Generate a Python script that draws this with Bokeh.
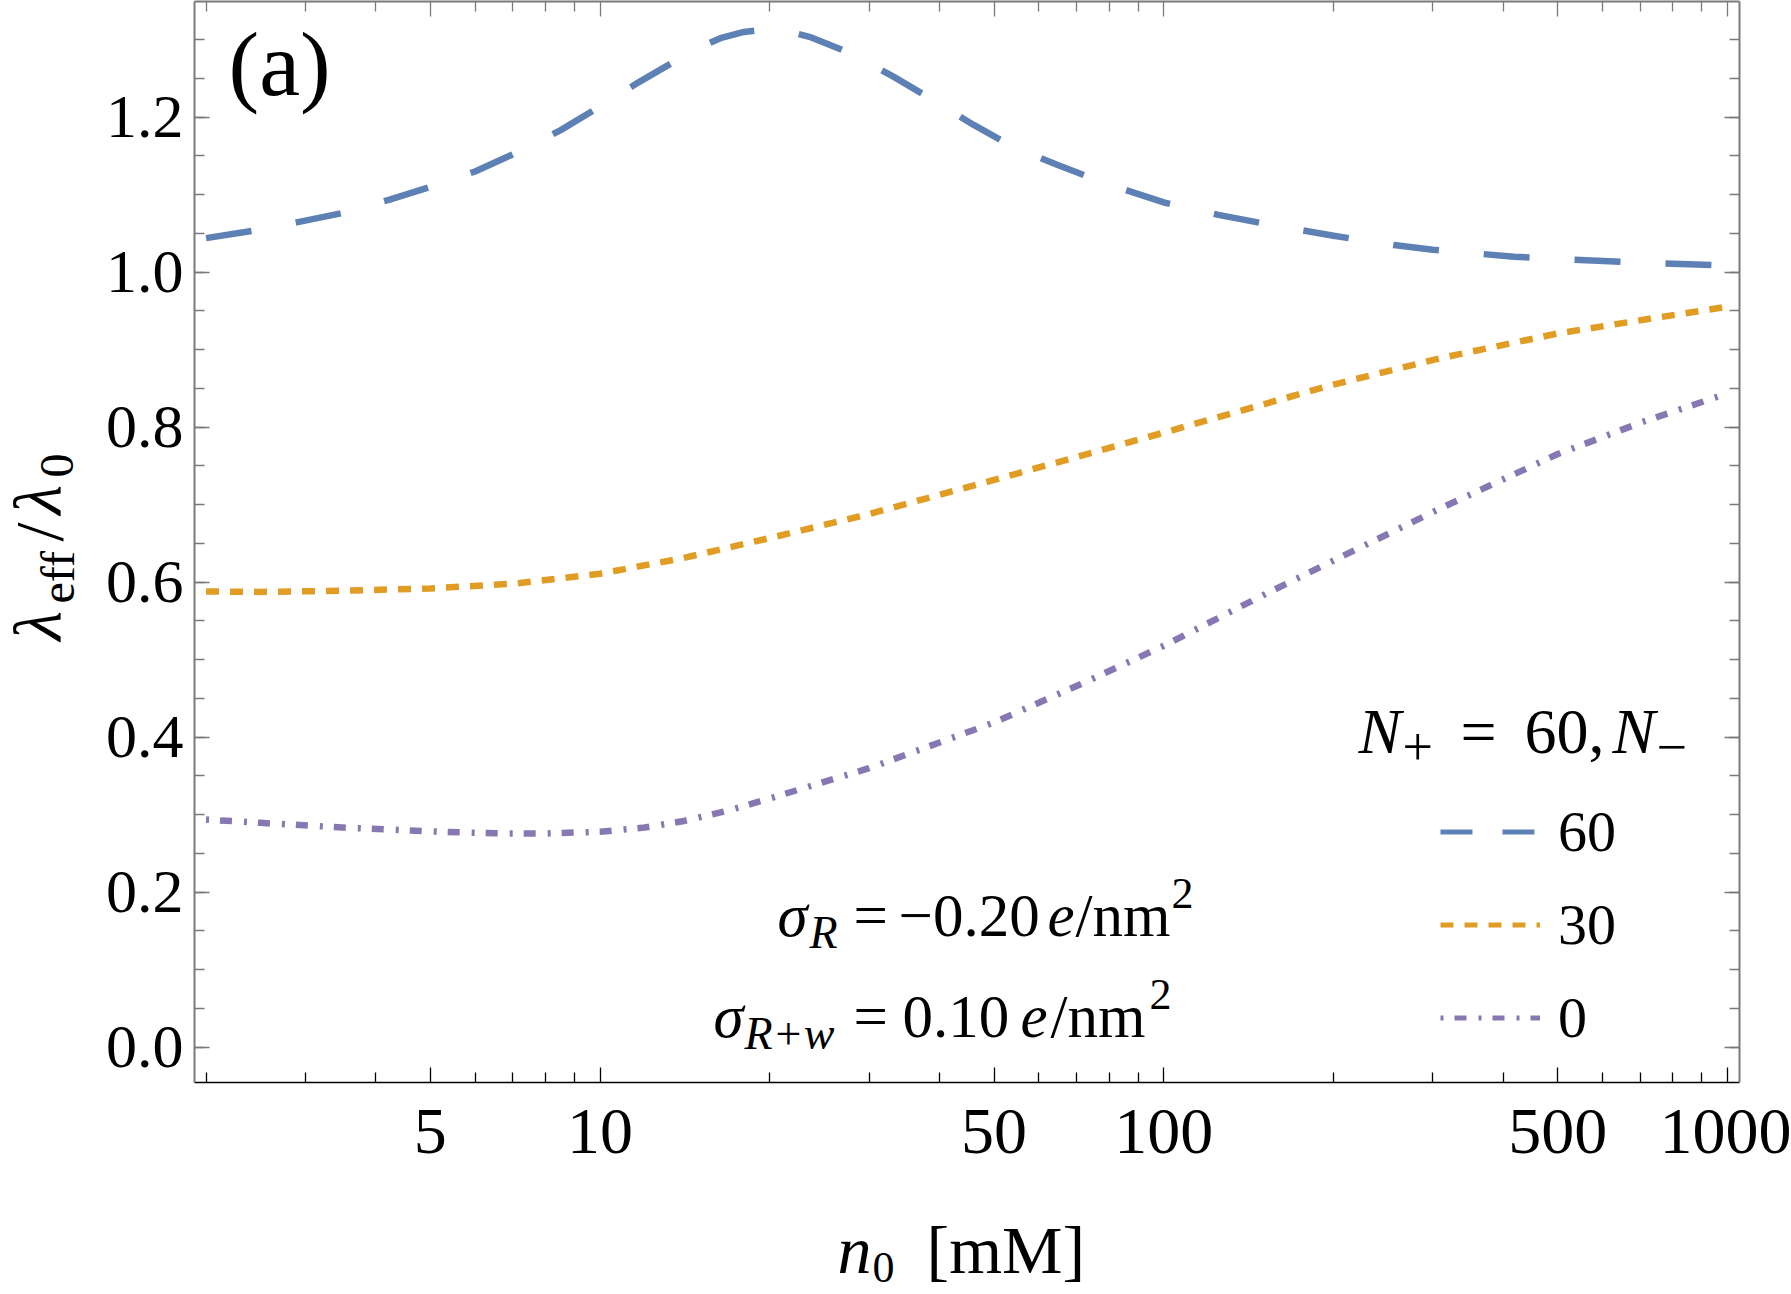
import math
from bokeh.plotting import figure
from bokeh.layouts import column, row
from bokeh.models import (Range1d, FixedTicker, LogAxis, LinearAxis, Label,
                          Legend, LegendItem, CustomJSTickFormatter)
from bokeh.embed import file_html
from bokeh.resources import INLINE

# ---------------- data ----------------
n_blue = [2.0, 2.42, 2.91, 3.51, 4.22, 5.0, 6.0, 7.0, 8.5, 10.0, 11.7, 13.7,
          15.0, 16.35, 18.0, 19.65, 21.5, 23.7, 28.1, 33.2, 39.0, 46.0, 54.0,
          65.0, 80.0, 100.0, 125.0, 150.0, 200.0, 256.0, 300.0, 418.0, 500.0,
          651.0, 800.0, 1000.0]
v_blue = [1.044, 1.0535, 1.0646, 1.0768, 1.0934, 1.110, 1.130, 1.152, 1.183,
          1.214, 1.245, 1.274, 1.290, 1.302, 1.310, 1.313, 1.311, 1.303, 1.281,
          1.252, 1.222, 1.190, 1.162, 1.138, 1.113, 1.090, 1.074, 1.063, 1.047,
          1.035, 1.029, 1.020, 1.017, 1.0135, 1.011, 1.0087]

n_orange = [2.0, 2.5, 3.5, 5.0, 7.0, 10.0, 14.0, 20.0, 30.0, 50.0, 72.0,
            100.0, 146.0, 200.0, 309.0, 500.0, 714.0, 1000.0]
v_orange = [0.588, 0.5875, 0.589, 0.592, 0.598, 0.611, 0.631, 0.657, 0.688,
            0.732, 0.764, 0.793, 0.827, 0.855, 0.889, 0.921, 0.939, 0.9556]

n_purple = [2.0, 2.5, 3.5, 5.0, 6.5, 8.0, 10.0, 12.0, 14.0, 17.0, 20.0, 30.0,
            50.0, 72.0, 100.0, 146.0, 200.0, 309.0, 500.0, 714.0, 1000.0]
v_purple = [0.2938, 0.2895, 0.2835, 0.2785, 0.2760, 0.2758, 0.2780, 0.2835,
            0.2915, 0.3060, 0.3210, 0.3600, 0.4190, 0.4700, 0.5180, 0.5790,
            0.6280, 0.6950, 0.7654, 0.8080, 0.8436]

series_labels = ["60", "30", "0"]
x_major = [5, 10, 50, 100, 500, 1000]
x_minor = [2, 3, 4, 6, 7, 8, 9, 20, 30, 40, 60, 70, 80, 90,
           200, 300, 400, 600, 700, 800, 900]
y_major = [0.0, 0.2, 0.4, 0.6, 0.8, 1.0, 1.2]
y_minor = [round(0.05 * i, 2) for i in range(0, 28)]

BLUE, ORANGE, PURPLE = "#5E81B5", "#E19C24", "#8778B3"
FONT = "Liberation Serif"
FRAME_GRAY = "#7a7a7a"

# ---------------- geometry (canvas pixels) ----------------
W, H = 1791, 1294
FL, FR, FT, FB = 194, 1739, 1, 1082     # frame edges on the page
YW = 100                                 # width of the y-label strip
HM = 1192                                # height of main figure
K = 0.3375                               # baseline -> middle offset (em)

# ---------------- main figure ----------------
p = figure(width=W - YW, height=HM, x_axis_type="log",
           x_range=Range1d(1.908, 1050.0), y_range=Range1d(-0.0455, 1.3493),
           output_backend="svg", toolbar_location=None,
           min_border_left=FL - YW, min_border_right=W - FR,
           min_border_top=FT, min_border_bottom=HM - FB)
p.outline_line_color = None
p.grid.visible = False
p.background_fill_color = "white"
p.border_fill_color = "white"


def style_axis(ax, color, width, labels=True, size="62px", standoff=10):
    ax.axis_line_color = color
    ax.axis_line_width = width
    ax.major_tick_line_color = color
    ax.minor_tick_line_color = color
    ax.major_tick_line_width = 1.3
    ax.minor_tick_line_width = 1.3
    ax.major_tick_in = 15
    ax.major_tick_out = 0
    ax.minor_tick_in = 10
    ax.minor_tick_out = 0
    if labels:
        ax.major_label_text_font = FONT
        ax.major_label_text_font_size = size
        ax.major_label_text_color = "black"
        ax.major_label_standoff = standoff
    else:
        ax.major_label_text_font_size = "0px"
        ax.major_label_text_alpha = 0
        ax.major_label_standoff = 0


xb = p.xaxis[0]
xb.ticker = FixedTicker(ticks=x_major, minor_ticks=x_minor)
style_axis(xb, "black", 1.5, size="66px", standoff=27)

yl = p.yaxis[0]
yl.ticker = FixedTicker(ticks=y_major, minor_ticks=y_minor)
yl.formatter = CustomJSTickFormatter(code="return tick.toFixed(1);")
style_axis(yl, FRAME_GRAY, 2, size="62px", standoff=11)

xt = LogAxis(ticker=FixedTicker(ticks=x_major, minor_ticks=x_minor))
style_axis(xt, FRAME_GRAY, 2, labels=False)
p.add_layout(xt, "above")

yr = LinearAxis(ticker=FixedTicker(ticks=y_major, minor_ticks=y_minor))
style_axis(yr, FRAME_GRAY, 2, labels=False)
p.add_layout(yr, "right")

# ---------------- curves ----------------
p.line(n_blue, v_blue, line_color=BLUE, line_width=6.5, line_dash="46 45",
       line_join="round")
p.line(n_orange, v_orange, line_color=ORANGE, line_width=6.5,
       line_dash="13 11", line_join="round")
p.line(n_purple, v_purple, line_color=PURPLE, line_width=6.5,
       line_dash="12 12 3 11", line_dash_offset=24, line_join="round")

# legend proxies: single-point lines (draw nothing), own dash lengths
g60 = p.line(n_blue[:1], v_blue[:1], line_color=BLUE, line_width=5,
             line_dash="32 30")
g30 = p.line(n_orange[:1], v_orange[:1], line_color=ORANGE, line_width=5,
             line_dash="13 11")
g0 = p.line(n_purple[:1], v_purple[:1], line_color=PURPLE, line_width=5,
            line_dash="12 12 3 11", line_dash_offset=24)
legend = Legend(items=[LegendItem(label=series_labels[0], renderers=[g60]),
                       LegendItem(label=series_labels[1], renderers=[g30]),
                       LegendItem(label=series_labels[2], renderers=[g0])],
                location=(1440 - FL, FB - 1064), orientation="vertical",
                glyph_width=100, glyph_height=93, label_height=93, spacing=0,
                padding=0, margin=0, border_line_color=None,
                background_fill_alpha=0, label_standoff=18,
                label_text_font=FONT, label_text_font_size="58px",
                label_text_color="black", label_text_baseline="middle")
p.add_layout(legend)


def make_T(fig, ox, oy):
    """Text placed by page pixel (X, baseline Y); ox/oy = frame left/bottom."""
    def T(X, Y, s, size, italic=False, angle=0.0):
        if angle:
            X = X - K * size
        else:
            Y = Y - K * size
        fig.add_layout(Label(x=X - ox, y=oy - Y, x_units="screen",
                             y_units="screen", text=s, text_font=FONT,
                             text_font_size=f"{size}px",
                             text_font_style="italic" if italic else "normal",
                             text_align="left", text_baseline="middle",
                             angle=angle, text_color="black"))
    return T


T = make_T(p, FL, FB)

T(228, 95, "(a)", 92)

# sigma annotation (the "=" signs are aligned)
T(777, 936, "σ", 61, italic=True)
T(809, 948, "R", 46, italic=True)
T(853, 936, "=", 61)
T(898, 936, "−0.20", 61)
T(1047, 936, "e", 61, italic=True)
T(1075, 936, "/nm", 61)
T(1171, 908, "2", 44)

T(713, 1037, "σ", 61, italic=True)
T(744, 1049, "R+w", 46, italic=True)
T(853, 1037, "=", 61)
T(902, 1037, "0.10", 61)
T(1020, 1037, "e", 61, italic=True)
T(1050, 1037, "/nm", 61)
T(1149, 1009, "2", 44)

# legend title
T(1358, 753, "N", 64, italic=True)
T(1402, 765, "+", 54)
T(1460, 753, "=", 64)
T(1524, 753, "60,", 64)
T(1612, 753, "N", 64, italic=True)
T(1656, 765, "−", 54)

# ---------------- y label strip (frame aligned with main frame) ----------
yfig = figure(width=YW, height=HM, output_backend="svg", toolbar_location=None,
              min_border_left=0, min_border_right=0, min_border_top=FT,
              min_border_bottom=HM - FB, x_axis_location=None,
              y_axis_location=None, x_range=Range1d(0, 1),
              y_range=Range1d(0, 1))
yfig.outline_line_color = None
yfig.grid.visible = False
yfig.border_fill_color = "white"
yfig.background_fill_color = "white"
TY = make_T(yfig, 0, FB)
R = math.pi / 2
TY(60, 640, "λ", 68, italic=True, angle=R)
TY(73, 603, "eff", 48, angle=R)
TY(61, 541, "/", 68, angle=R)
TY(60, 514, "λ", 68, italic=True, angle=R)
TY(73, 477, "0", 48, angle=R)

# ---------------- x label strip ----------------
xfig = figure(width=W, height=H - HM, output_backend="svg",
              toolbar_location=None, min_border=0, x_axis_location=None,
              y_axis_location=None, x_range=Range1d(0, 1),
              y_range=Range1d(0, 1))
xfig.outline_line_color = None
xfig.grid.visible = False
xfig.border_fill_color = "white"
xfig.background_fill_color = "white"
TX = make_T(xfig, 0, H)
TX(837, 1272, "n", 68, italic=True)
TX(872, 1282, "0", 44)
TX(926, 1272, "[mM]", 68)

layout = column(row(yfig, p, spacing=0), xfig, spacing=0)
open("out.html", "w").write(file_html(layout, INLINE))
